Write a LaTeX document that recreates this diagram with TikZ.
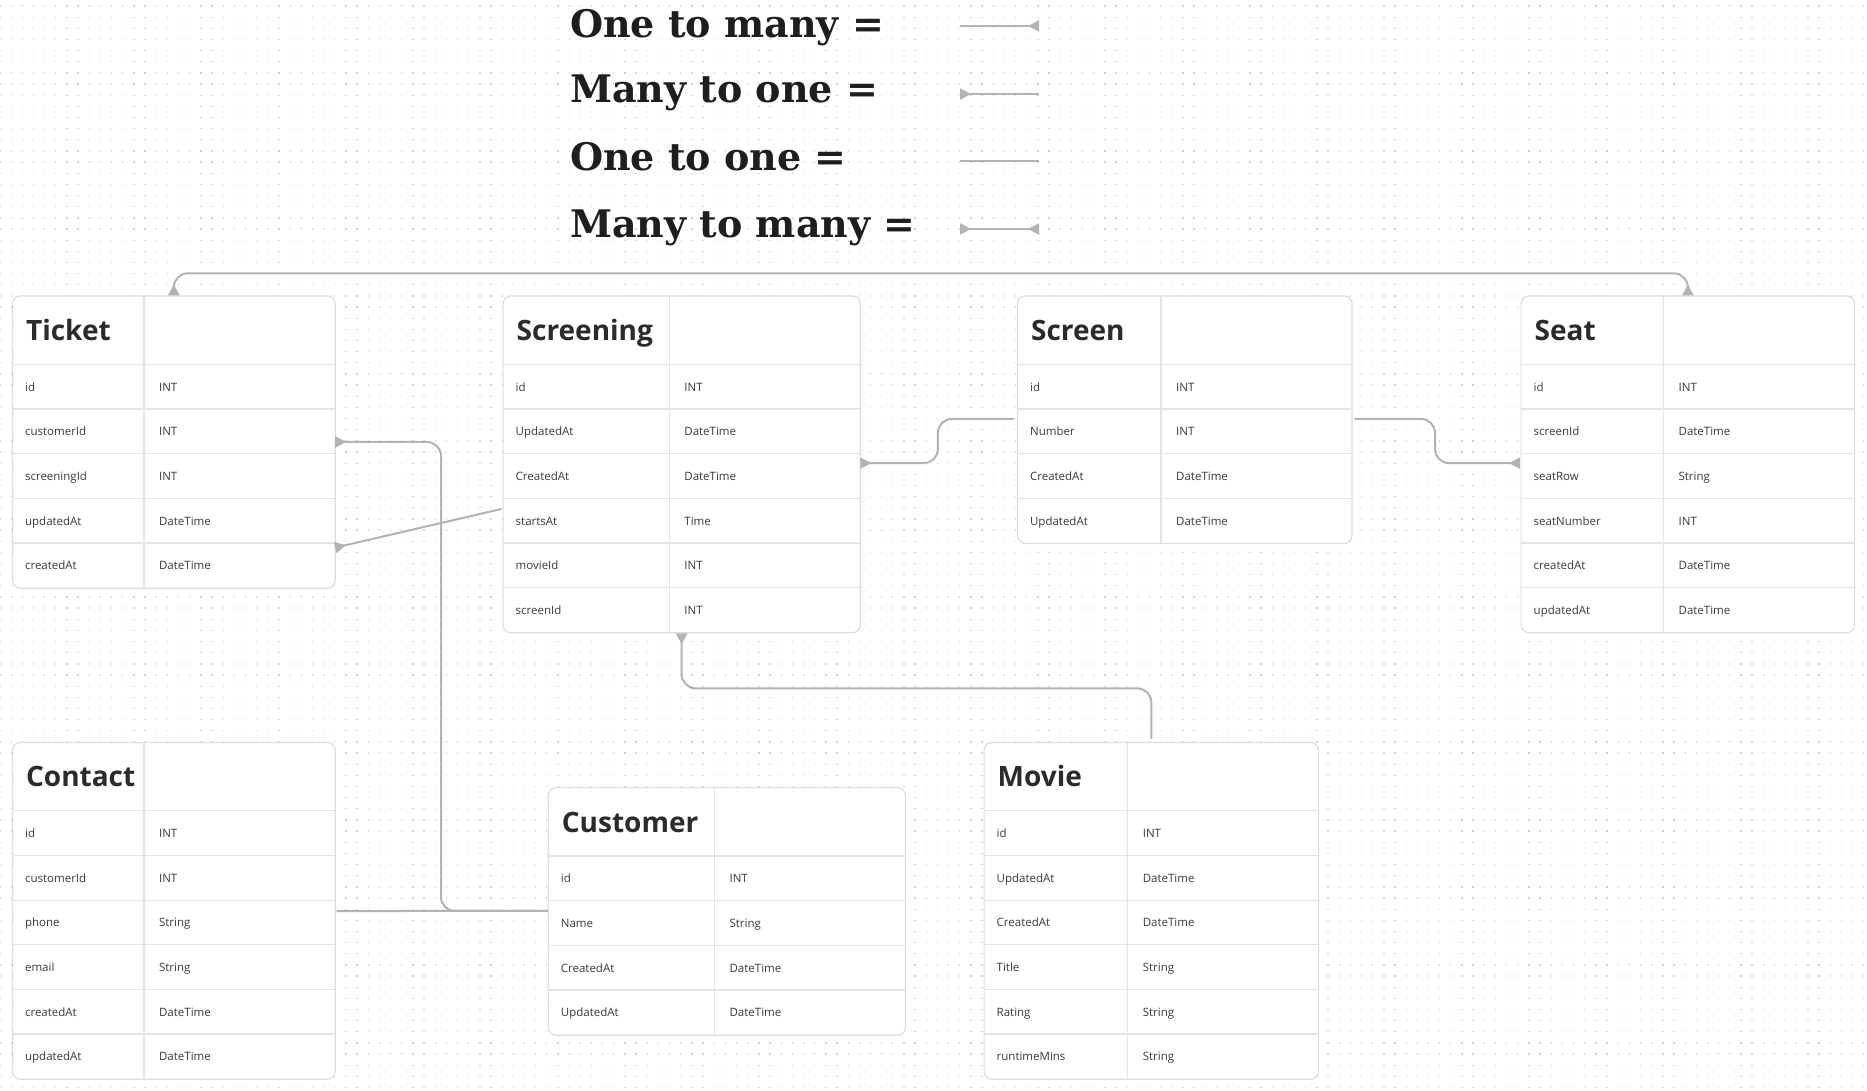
\documentclass[tikz,border=0pt]{standalone}
\usepackage{fontspec}
\setmainfont{Open Sans}
\newfontfamily\legfont{DejaVu Serif}
\usetikzlibrary{arrows.meta,calc}
\definecolor{linec}{HTML}{B3B3B3}
\definecolor{bordc}{HTML}{DDDDDD}
\definecolor{sepc}{HTML}{E3E3E3}
\definecolor{dotc}{HTML}{D4D4D4}
\definecolor{titc}{HTML}{2B2B2B}
\definecolor{rowc}{HTML}{3A3A3A}
\definecolor{legc}{HTML}{1E1E1E}
\tikzset{
  entbox/.style={draw=bordc, line width=1.2pt, fill=white, rounded corners=8pt, inner sep=0pt},
  sepline/.style={draw=sepc, line width=1.2pt},
  titletext/.style={anchor=base west, inner sep=0pt, text=titc, font={\fontsize{28}{30}\selectfont\bfseries}},
  rowtext/.style={anchor=base west, inner sep=0pt, text=rowc, font={\fontsize{11.5}{13}\selectfont}},
  conn/.style={draw=linec, line width=2pt, rounded corners=14pt},
  ctri/.tip={Triangle[reversed,length=11pt,width=11pt]},
  legtext/.style={anchor=base west, inner sep=0pt, text=legc, font={\legfont\fontsize{38}{42}\selectfont\bfseries}},
  dotrow/.style={draw=dotc, line width=1.3pt, dash pattern=on 1.3pt off 9.86pt},
}
% name, x, y, width, left column width, title, number of rows, rows
\newcommand\mkentity[8]{%
  \pgfmathsetmacro\enth{69+#7*44.65}%
  \node[entbox, minimum width=#4pt, minimum height=\enth pt, anchor=north west] (#1) at (#2,#3) {};
  \node[titletext] (#1-title) at (#2+14,#3+45) {#6};
  \draw[sepline] (#2+#5,#3) -- (#2+#5,#3+\enth);
  \foreach \f/\t [count=\i] in {#8} {
    \pgfmathsetmacro\rt{#3+69+(\i-1)*44.65}
    \draw[sepline] (#2,\rt) -- (#2+#4,\rt);
    \coordinate (#1-L\i) at (#2,\rt);
    \coordinate (#1-R\i) at (#2+#4,\rt);
    \node[rowtext] (#1-f\i) at (#2+13,\rt+26.8) {\f};
    \node[rowtext] (#1-t\i) at (#2+#5+15,\rt+26.8) {\t};
  }
}
\begin{document}
\begin{tikzpicture}[x=1pt,y=-1pt]
\useasboundingbox (0,0) rectangle (1867,1090);
\fill[white] (0,0) rectangle (1867,1090);
\foreach \k in {0,...,97} {
  \draw[dotrow] (-0.65,6+\k*11.15) -- (1868,6+\k*11.15);
}
% legend
\node[legtext] (leg1) at (570,37) {One to many =};
\node[legtext] (leg2) at (570,102) {Many to one =};
\node[legtext] (leg3) at (570,170) {One to one =};
\node[legtext] (leg4) at (570,237) {Many to many =};
\coordinate (l1a) at (960,26);  \coordinate (l1b) at (1039,26);
\coordinate (l2a) at (960,94);  \coordinate (l2b) at (1039,94);
\coordinate (l3a) at (960,161); \coordinate (l3b) at (1039,161);
\coordinate (l4a) at (960,229); \coordinate (l4b) at (1039,229);
\draw[conn,-ctri] (l1a) -- (l1b);
\draw[conn,ctri-] (l2a) -- (l2b);
\draw[conn] (l3a) -- (l3b);
\draw[conn,ctri-ctri] (l4a) -- (l4b);
% entities
\mkentity{ticket}{11.9}{295.3}{322.7}{132}{Ticket}{5}{id/INT, customerId/INT, screeningId/INT, updatedAt/DateTime, createdAt/DateTime}
\mkentity{screening}{502.5}{295.3}{357.2}{166.7}{Screening}{6}{id/INT, UpdatedAt/DateTime, CreatedAt/DateTime, startsAt/Time, movieId/INT, screenId/INT}
\mkentity{screen}{1016.9}{295.3}{334.5}{144.1}{Screen}{4}{id/INT, Number/INT, CreatedAt/DateTime, UpdatedAt/DateTime}
\mkentity{seat}{1520.5}{295.3}{333.5}{142.9}{Seat}{6}{id/INT, screenId/DateTime, seatRow/String, seatNumber/INT, createdAt/DateTime, updatedAt/DateTime}
\mkentity{contact}{11.9}{741.8}{322.7}{132}{Contact}{6}{id/INT, customerId/INT, phone/String, email/String, createdAt/DateTime, updatedAt/DateTime}
\mkentity{customer}{547.7}{787}{357.2}{166.7}{Customer}{4}{id/INT, Name/String, CreatedAt/DateTime, UpdatedAt/DateTime}
\mkentity{movie}{983.5}{741.8}{334.5}{144.1}{Movie}{6}{id/INT, UpdatedAt/DateTime, CreatedAt/DateTime, Title/String, Rating/String, runtimeMins/String}
% connectors
\draw[conn,ctri-ctri] (ticket.north) -- ++(0,-22) -| (seat.north);
\draw[conn,ctri-] ($(ticket-R2)+(0.6,33)$) -| ($(customer-L2)+(-106.7,10.3)$) -- ($(customer-L2)+(0,10.3)$);
\draw[conn] ($(contact-R3)+(2,10.9)$) -- ($(customer-L2)+(0,10.3)$);
\draw[conn,ctri-] ($(ticket-R5)+(0.6,4.7)$) -- ($(screening-L4)+(-1,10.7)$);
\draw[conn,ctri-] ($(screening-R3)+(0.6,9.5)$) -| ($(screen-L2)+(-79,10)$) -- ($(screen-L2)+(-3,10)$);
\draw[conn,-ctri] ($(screen-R2)+(3,10)$) -| ($(seat-L3)+(-85.5,9.5)$) -- ($(seat-L3)+(-0.6,9.5)$);
\draw[conn,ctri-] (screening.south) -- ++(0,55) -| ([yshift=3pt]movie.north);
\end{tikzpicture}
\end{document}
